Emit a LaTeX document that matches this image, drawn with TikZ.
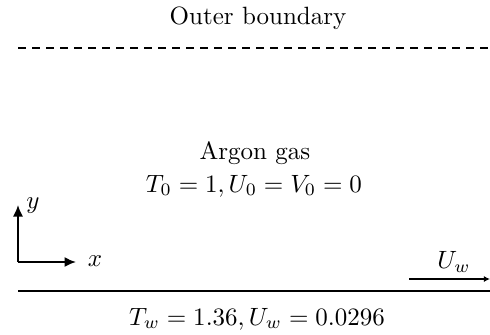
\documentclass[tikz,border=0pt]{standalone}
\usetikzlibrary{arrows.meta}
\begin{document}
\begin{tikzpicture}[x=0.4pt,y=-0.4pt,
  lbl/.style={inner sep=0pt,anchor=center},
  ln/.style={line width=0.7pt},
  arr/.style={ln,-{Latex[length=4.6pt,width=4pt]}}]
\useasboundingbox (0,0) rectangle (490,334);
\node[lbl] (outer) at (258,18) {Outer boundary};
\coordinate (d1) at (18,48);
\coordinate (d2) at (490,48);
\draw[ln,dash pattern=on 3.2pt off 2.4pt] (d1) -- (d2);
\node[lbl] (argon) at (255,153) {Argon gas};
\node[lbl] (init) at (254,186) {$T_0=1, U_0=V_0=0$};
\coordinate (o) at (18,262);
\coordinate (ye) at (18,205);
\coordinate (xe) at (76,262);
\draw[arr] (o) -- (ye);
\draw[arr] (o) -- (xe);
\node[lbl] (ylab) at (33,206) {$y$};
\node[lbl] (xlab) at (95,261) {$x$};
\coordinate (w1) at (18,291);
\coordinate (w2) at (490,291);
\draw[ln] (w1) -- (w2);
\coordinate (u1) at (409,279);
\coordinate (u2) at (490,279);
\draw[ln,-{Latex[length=2.5pt,width=2.5pt]}] (u1) -- (u2);
\node[lbl] (uw) at (454,262) {$U_w$};
\node[lbl] (bot) at (257,319) {$T_w=1.36, U_w=0.0296$};
\end{tikzpicture}
\end{document}
